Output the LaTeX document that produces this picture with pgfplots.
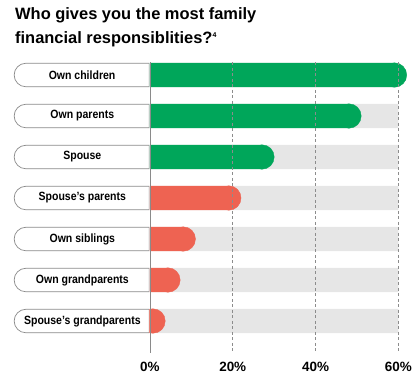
\documentclass[border=0pt]{standalone}
\usepackage{fontspec}
\setmainfont{Liberation Sans}
\newfontfamily\labelfont[FakeStretch=0.88]{Liberation Sans}
\usepackage{pgfplots}
\usepackage{pgfplotstable}
\pgfplotsset{compat=1.18}
\usetikzlibrary{shapes.misc}
\definecolor{bargreen}{HTML}{00A65A}
\definecolor{barred}{HTML}{EE6352}
\definecolor{bandgray}{HTML}{E6E6E6}
\definecolor{pillgray}{HTML}{8A8A8A}
\definecolor{gridgray}{HTML}{8C8C8C}
\pgfplotstableread{
y v
0 62
1 51
2 30
}\greendata
\pgfplotstableread{
y v
3 22
4 11
5 7.3
6 3.7
}\reddata
\pgfplotstableread{
y v
0 60
1 60
2 60
3 60
4 60
5 60
6 60
}\banddata
\begin{document}
\begin{tikzpicture}
\begin{axis}[
  name=ax,
  x=4.142bp, y=41bp, y dir=reverse,
  xmin=-0.1, xmax=62.3, ymin=-0.31, ymax=6.78,
  clip marker paths=true,
  axis line style={draw=none},
  tick style={draw=none},
  xtick={0,20,40,60},
  xticklabels={0\%,20\%,40\%,60\%},
  xticklabel pos=lower,
  xticklabel style={font=\bfseries\fontsize{13.5}{14}\selectfont, yshift=-6bp},
  ytick={0,1,2,3,4,5,6},
  yticklabels={Own children,Own parents,Spouse,Spouse’s parents,Own siblings,Own grandparents,Spouse’s grandparents},
  yticklabel style={draw=pillgray, fill=white, line width=0.7bp, rounded rectangle, rounded rectangle right arc=none,
    minimum width=135bp, minimum height=23.5bp, inner sep=0pt, anchor=east,
    font=\labelfont\bfseries\fontsize{12}{13}\selectfont},
]
\addplot[xbar, bar width=24.4bp, bar shift=0pt, fill=bandgray, draw=none] table[x=v, y=y]{\banddata};
\addplot[xbar, bar width=24.4bp, bar shift=0pt, fill=bargreen, draw=none] table[x expr=\thisrow{v}-2.945, y=y]{\greendata};
\addplot[bargreen, only marks, mark=*, mark size=12.2bp, mark options={fill=bargreen, draw=none}] table[x expr=\thisrow{v}-2.945, y=y]{\greendata};
\addplot[xbar, bar width=24.4bp, bar shift=0pt, fill=barred, draw=none] table[x expr=\thisrow{v}-2.945, y=y]{\reddata};
\addplot[barred, only marks, mark=*, mark size=12.2bp, mark options={fill=barred, draw=none}] table[x expr=\thisrow{v}-2.945, y=y]{\reddata};
\addplot[gridgray, line width=0.7bp, dash pattern=on 3bp off 2.5bp] coordinates {(20,-0.31) (20,6.78)};
\addplot[gridgray, line width=0.7bp, dash pattern=on 3bp off 2.5bp] coordinates {(40,-0.31) (40,6.78)};
\addplot[gridgray, line width=0.7bp, dash pattern=on 3bp off 2.5bp] coordinates {(60,-0.31) (60,6.78)};
\addplot[pillgray, line width=0.8bp] coordinates {(0,-0.31) (0,6.78)};
\end{axis}
\node[anchor=north west, align=left, inner sep=0pt, font=\bfseries\fontsize{16.5}{24}\selectfont]
  at (ax.north west) [xshift=-134.5bp, yshift=55bp]
  {Who gives you the most family\\financial responsiblities?\textsuperscript{\fontsize{7}{7}\selectfont 4}};
\pgfresetboundingbox
\path[use as bounding box] (ax.north west) ++(-149.5bp,62.3bp) rectangle ++(418bp,-376bp);
\end{tikzpicture}
\end{document}
